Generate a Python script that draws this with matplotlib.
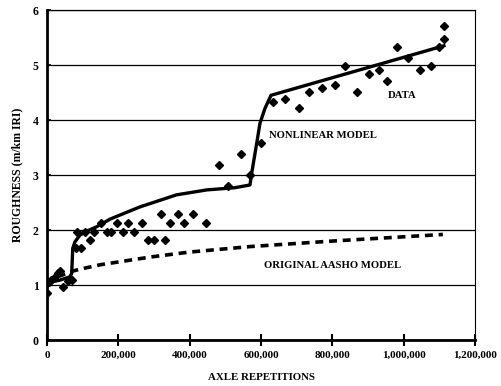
import numpy as np
import matplotlib.pyplot as plt
from matplotlib.ticker import FuncFormatter

plt.rcParams['font.family'] = ['Liberation Serif', 'DejaVu Serif']
plt.rcParams['font.weight'] = 'bold'

# measured roughness (diamonds)
data_x = [0, 5000, 12000, 20000, 30000, 35000, 46000, 60000, 70000, 80000, 83000,
          96000, 106000, 120000, 132000, 150000, 167000, 178000, 195000, 212000,
          228000, 245000, 265000, 282000, 300000, 320000, 331000, 345000, 366000,
          383000, 408000, 446000, 482000, 508000, 543000, 569000, 600000, 633000,
          667000, 707000, 735000, 770000, 807000, 835000, 868000, 903000, 931000,
          952000, 980000, 1013000, 1046000, 1078000, 1099000, 1114000, 1114000]
data_y = [0.85, 1.05, 1.10, 1.12, 1.22, 1.25, 0.96, 1.08, 1.10, 1.67, 1.97,
          1.67, 1.97, 1.82, 1.97, 2.13, 1.97, 1.97, 2.13, 1.97,
          2.13, 1.97, 2.13, 1.82, 1.82, 2.30, 1.82, 2.13, 2.30,
          2.13, 2.30, 2.13, 3.18, 2.81, 3.38, 3.00, 3.59, 4.33,
          4.39, 4.21, 4.51, 4.59, 4.64, 4.98, 4.51, 4.84, 4.91,
          4.71, 5.33, 5.12, 4.91, 4.98, 5.33, 5.47, 5.71]

# nonlinear model (solid)
nl_x = [0, 8000, 36000, 64000, 69000, 72000, 78500, 92500, 111000, 139000, 177000,
        260000, 363000, 448000, 527000, 569000, 574000, 588000, 597000, 611000,
        628000, 1113000]
nl_y = [0.97, 1.05, 1.09, 1.15, 1.21, 1.67, 1.79, 1.91, 1.98, 2.06, 2.20,
        2.42, 2.64, 2.73, 2.77, 2.82, 3.04, 3.58, 3.94, 4.21, 4.45, 5.35]

# original AASHO model (dashed)
aa_x = [0, 10000, 25000, 50000, 75000, 100000, 150000, 200000, 290000, 400000,
        570000, 800000, 1110000]
aa_y = [1.0, 1.08, 1.14, 1.20, 1.26, 1.30, 1.37, 1.42, 1.51, 1.60, 1.70, 1.80, 1.92]

fig = plt.figure(figsize=(5.01, 3.86), dpi=100)
ax = fig.add_axes([0.094, 0.119, 0.854, 0.855])

ax.set_xlim(0, 1200000)
ax.set_ylim(0, 6)
ax.set_yticks(np.arange(0, 7, 1))
ax.set_xticks(np.arange(0, 1200001, 200000))
ax.xaxis.set_major_formatter(FuncFormatter(lambda v, p: '{:,.0f}'.format(v)))
ax.grid(axis='y', color='black', linewidth=0.9)
ax.set_axisbelow(True)

for s in ['left', 'bottom']:
    ax.spines[s].set_linewidth(2.0)
ax.spines['right'].set_linewidth(0.8)
ax.spines['top'].set_linewidth(0.9)
ax.tick_params(axis='x', direction='inout', length=8, width=1.5, labelsize=8, pad=4)
ax.tick_params(axis='y', direction='in', length=3, width=1.2, labelsize=8.5, pad=6)

ax.plot(aa_x, aa_y, color='black', linewidth=2.6, linestyle=(0, (2.2, 1.6)))
ax.plot(nl_x, nl_y, color='black', linewidth=2.4)
ax.plot(data_x, data_y, linestyle='none', marker='D', markersize=4.0, color='black')

ax.text(955000, 4.45, 'DATA', fontsize=7.7, fontweight='bold', va='center')
ax.text(622000, 3.71, 'NONLINEAR MODEL', fontsize=7.7, fontweight='bold', va='center')
ax.text(607000, 1.36, 'ORIGINAL AASHO MODEL', fontsize=7.7, fontweight='bold', va='center')

ax.set_xlabel('AXLE REPETITIONS', fontsize=7.8, fontweight='bold', labelpad=9)
ax.set_ylabel('ROUGHNESS (m/km IRI)', fontsize=8.5, fontweight='bold', labelpad=7)

plt.savefig('out.png', dpi=100)
